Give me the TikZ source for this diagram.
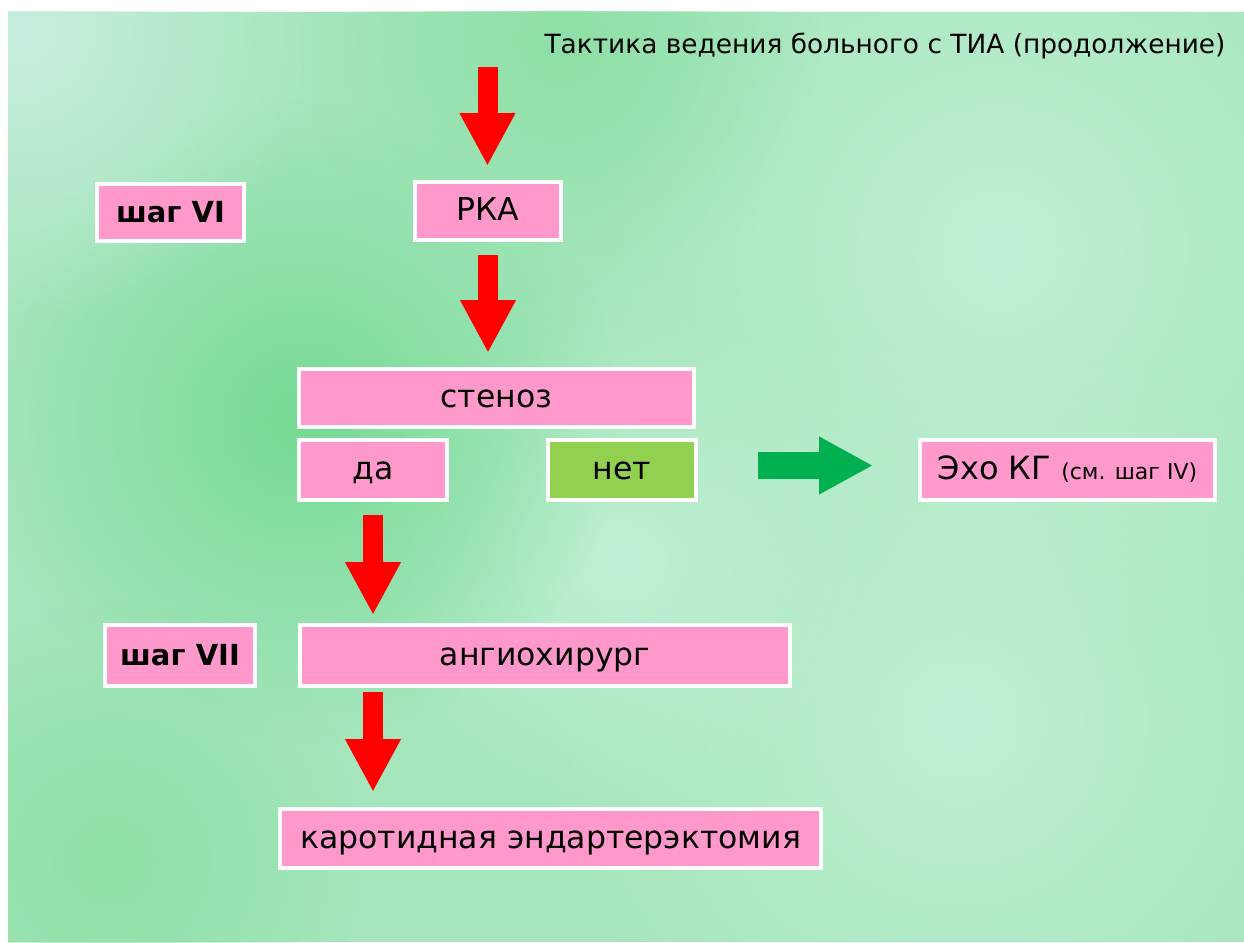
\documentclass[tikz,border=0pt]{standalone}
\usepackage{fontspec}
\setmainfont{DejaVu Sans}
\usetikzlibrary{arrows.meta,calc,fadings}
\definecolor{pinkbox}{RGB}{255,153,204}
\definecolor{greenbox}{RGB}{146,208,80}
\definecolor{arrowred}{RGB}{255,0,0}
\definecolor{arrowgreen}{RGB}{0,176,80}
\definecolor{bgbase}{RGB}{165,230,188}
\definecolor{bgdark}{RGB}{118,218,148}
\definecolor{bgmid}{RGB}{142,224,166}
\definecolor{bgpale}{RGB}{200,238,222}
\definecolor{bglight}{RGB}{192,240,212}
\tikzfading[name=softblob, inner color=transparent!0, outer color=transparent!100]
\tikzset{
  box/.style={draw=white, line width=4pt, fill=pinkbox, inner sep=0pt, text=black,
    text height=24pt, text depth=5pt, font=\fontsize{31.5}{36}\selectfont},
  stepbox/.style={box, font=\fontsize{29}{34}\selectfont\bfseries},
  redarrow/.style={draw=arrowred, line width=20pt, -{Triangle[width=52pt,length=53pt]}},
  greenarrow/.style={draw=arrowgreen, line width=27pt, -{Triangle[width=54pt,length=54pt]}},
  blob/.style={path fading=softblob}
}
\begin{document}
\begin{tikzpicture}[x=1pt,y=-1pt]
\useasboundingbox (0,0) rectangle (1244,942);
\fill[white] (0,0) rectangle (1244,942);
% background
\begin{scope}
\clip (8,12) rectangle (1244,942);
\fill[bgbase] (8,12) rectangle (1244,942);
\fill[bglight, blob] (1000,250) circle (420);
\fill[bglight, blob] (960,720) circle (420);
\fill[bglight, blob] (620,560) circle (260);
\fill[bgdark, blob] (300,420) circle (320);
\fill[bgmid, blob] (110,860) circle (260);
\fill[bgmid, blob] (560,40) circle (260);
\fill[bgpale, blob] (20,30) circle (300);
\end{scope}
% title
\node[anchor=east, font=\fontsize{26.4}{31}\selectfont] (title) at (1229,46)
  {Тактика ведения больного с ТИА (продолжение)};
% boxes
\node[stepbox, minimum width=147pt, minimum height=57pt] (step6) at (170.5,212.5) {шаг VI};
\node[box, minimum width=146pt, minimum height=58pt] (rka) at (488,211) {РКА};
\node[box, minimum width=395pt, minimum height=58pt] (sten) at (496.5,398) {стеноз};
\node[box, minimum width=148pt, minimum height=60pt] (da) at (373,470) {да};
\node[box, fill=greenbox, minimum width=148pt, minimum height=60pt] (net) at (622,470) {нет};
\node[box, minimum width=295pt, minimum height=60pt, font=\fontsize{32}{36}\selectfont] (echo) at (1067.5,470)
  {Эхо КГ {\fontsize{22}{26}\selectfont(см. шаг IV)}};
\node[stepbox, minimum width=150pt, minimum height=61pt] (step7) at (180,655.5) {шаг VII};
\node[box, minimum width=490pt, minimum height=61pt] (ang) at (545,655.5) {ангиохирург};
\node[box, minimum width=541pt, minimum height=59pt] (kar) at (550.5,838.5) {каротидная эндартерэктомия};
% arrows
\coordinate (start) at (487.5,67);
\draw[redarrow, shorten >=14pt] (start) -- (start |- rka.north);
\draw[redarrow, shorten <=13pt, shorten >=14pt] (rka.south) -- (rka.south |- sten.north);
\draw[redarrow, shorten <=13pt, shorten >=8pt] (da.south) -- (da.south |- ang.north);
\draw[redarrow, shorten <=4pt, shorten >=15pt] (da.south |- ang.south) -- (da.south |- kar.north);
\draw[greenarrow, shorten <=60pt, shorten >=45pt] ([yshift=4.5pt]net.east) -- ([yshift=4.5pt]echo.west);
\end{tikzpicture}
\end{document}
